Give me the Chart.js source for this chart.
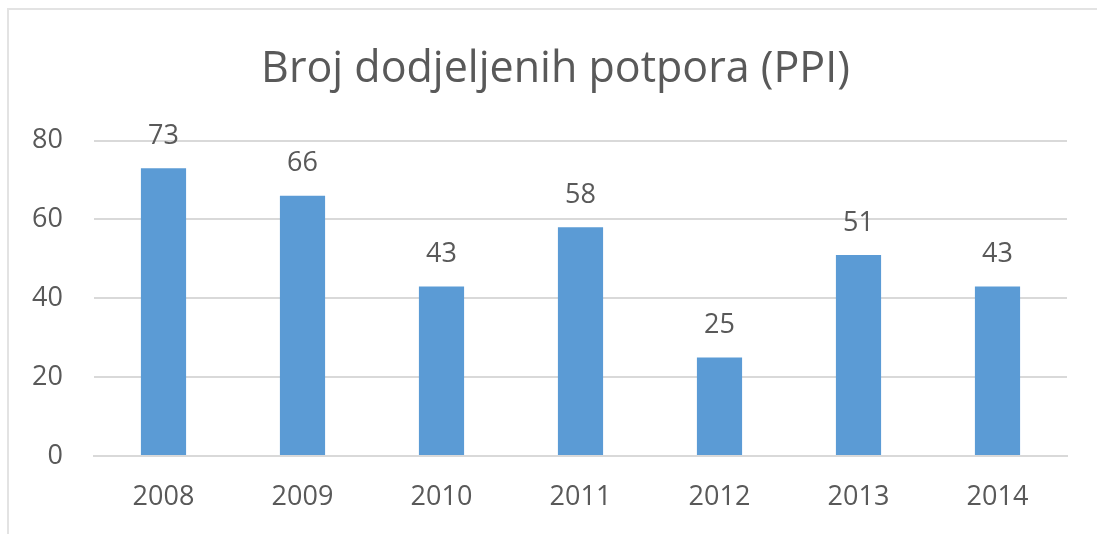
<!DOCTYPE html>
<html>
<head>
<meta charset="utf-8">
<script src="https://cdn.jsdelivr.net/npm/chart.js@4/dist/chart.umd.min.js"></script>
<style>
  html, body { margin: 0; padding: 0; background: #fff; }
  #wrap { position: relative; width: 1097px; height: 534px; overflow: hidden; }
  #frame { position: absolute; left: 7px; top: 8px; width: 1200px; height: 600px; border: 2px solid #e3e3e3; box-sizing: border-box; }
  canvas { position: absolute; left: 0; top: 0; }
</style>
</head>
<body>
<div id="wrap">
  <div id="frame"></div>
  <canvas id="potporeChart" width="1097" height="534"></canvas>
</div>
<script>
const years = ['2008', '2009', '2010', '2011', '2012', '2013', '2014'];
const grants = [73, 66, 43, 58, 25, 51, 43];
const yTicks = [0, 20, 40, 60, 80];

const textColor = '#595959';
const fontFamily = "'Open Sans', 'Noto Sans', sans-serif";

// simple value labels above the bars (no datalabels plugin offline)
const barValueLabels = {
  id: 'barValueLabels',
  afterDatasetsDraw(chart) {
    const ctx = chart.ctx;
    const meta = chart.getDatasetMeta(0);
    ctx.save();
    ctx.fillStyle = textColor;
    ctx.font = `27px ${fontFamily}`;
    ctx.textAlign = 'center';
    ctx.textBaseline = 'middle';
    meta.data.forEach((bar, i) => {
      ctx.fillText(String(grants[i]), bar.x, bar.y - 32);
    });
    ctx.restore();
  }
};

const ctx = document.getElementById('potporeChart');
new Chart(ctx, {
  type: 'bar',
  data: {
    labels: years,
    datasets: [{
      data: grants,
      backgroundColor: '#5B9BD5',
      borderWidth: 0,
      categoryPercentage: 1,
      barPercentage: 0.325
    }]
  },
  options: {
    responsive: false,
    animation: false,
    layout: { padding: { left: 20, right: 6, top: 44, bottom: 21 } },
    scales: {
      x: {
        grid: { display: false, drawTicks: false },
        border: { display: true, color: '#d9d9d9', width: 2 },
        ticks: { color: textColor, font: { size: 27, family: fontFamily }, padding: 25 },
        afterFit: (s) => { s.height = 57; }
      },
      y: {
        min: 0,
        max: 80,
        afterBuildTicks: (s) => { s.ticks = yTicks.map(v => ({ value: v })); },
        grid: { color: '#d9d9d9', lineWidth: 2, drawTicks: false },
        border: { display: false },
        ticks: { color: textColor, font: { size: 27, family: fontFamily }, padding: 31 },
        afterFit: (s) => { s.width = 74; }
      },
      // empty right-side spacer so the title sits where the original has it
      spacer: {
        type: 'linear',
        axis: 'y',
        position: 'right',
        grid: { display: false, drawTicks: false },
        border: { display: false },
        ticks: { display: false },
        afterFit: (s) => { s.width = 24; }
      }
    },
    plugins: {
      legend: { display: false },
      tooltip: { enabled: false },
      title: {
        display: true,
        text: 'Broj dodjeljenih potpora (PPI)',
        color: textColor,
        font: { size: 43, weight: 'normal', family: fontFamily },
        padding: { top: 0, bottom: 45 }
      }
    }
  },
  plugins: [barValueLabels]
});
</script>
</body>
</html>
